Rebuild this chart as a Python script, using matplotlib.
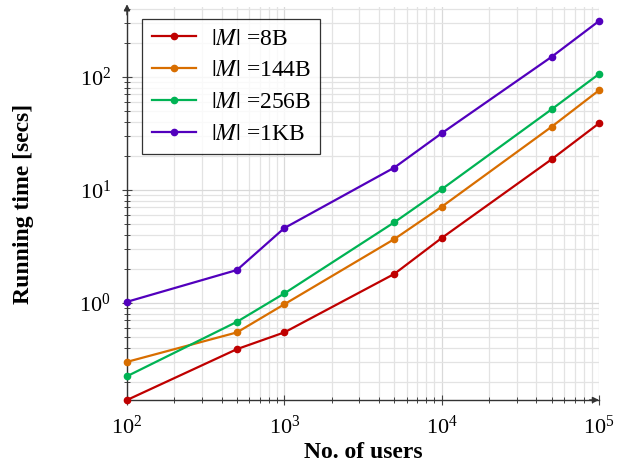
import matplotlib
matplotlib.use("Agg")
import matplotlib.pyplot as plt

users = [100, 500, 1000, 5000, 10000, 50000, 100000]
t_8B = [0.138, 0.389, 0.547, 1.80, 3.74, 18.6, 38.7]
t_144B = [0.30, 0.547, 0.97, 3.66, 7.07, 36.1, 75.8]
t_256B = [0.224, 0.679, 1.21, 5.15, 10.1, 51.5, 105.7]
t_1KB = [1.02, 1.95, 4.58, 15.7, 31.6, 150, 311]
labels = [r"$\left|M\right|$ =8B", r"$\left|M\right|$ =144B",
          r"$\left|M\right|$ =256B", r"$\left|M\right|$ =1KB"]
colors = ["#bf0000", "#d86e00", "#00b354", "#5200bd"]

plt.rcParams["font.family"] = ["Liberation Serif", "DejaVu Serif"]
plt.rcParams["mathtext.fontset"] = "stix"

fig = plt.figure(figsize=(6.21, 4.66), dpi=100)
ax = fig.add_axes([127/621, 66/466, 472/621, 393/466])

for ys, lab, c in zip([t_8B, t_144B, t_256B, t_1KB], labels, colors):
    ax.plot(users, ys, color=c, lw=1.6, marker="o", ms=4.5, label=lab,
            clip_on=False, zorder=3)

ax.set_xscale("log")
ax.set_yscale("log")
ax.set_xlim(100, 1e5)
ax.set_ylim(0.138, 414)

ax.grid(True, which="major", color="#d9d9d9", lw=0.9)
ax.grid(True, which="minor", color="#e3e3e3", lw=0.9)
ax.set_axisbelow(True)

for s in ["top", "right"]:
    ax.spines[s].set_visible(False)
for s in ["left", "bottom"]:
    ax.spines[s].set_color("#333333")
    ax.spines[s].set_linewidth(1.0)

ax.tick_params(which="major", direction="inout", length=7, width=0.8,
               color="#444444", labelsize=16, pad=8)
ax.tick_params(which="minor", direction="inout", length=4, width=0.7,
               color="#444444")
ax.yaxis.set_minor_formatter(matplotlib.ticker.NullFormatter())
ax.xaxis.set_minor_formatter(matplotlib.ticker.NullFormatter())

ax.annotate("", xy=(1.0, 0), xytext=(0.98, 0), xycoords="axes fraction",
            arrowprops=dict(arrowstyle="-|>", color="#333333", lw=1.0,
                            mutation_scale=9, shrinkA=0, shrinkB=0))
ax.annotate("", xy=(0, 1.007), xytext=(0, 0.98), xycoords="axes fraction",
            arrowprops=dict(arrowstyle="-|>", color="#333333", lw=1.0,
                            mutation_scale=9, shrinkA=0, shrinkB=0))

fig.text(363/621, 1 - 453/466, "No. of users", fontsize=17, fontweight="bold",
         ha="center", va="center")
fig.text(24/621, 1 - 204/466, "Running time [secs]", fontsize=17,
         fontweight="bold", ha="center", va="center", rotation=90)

leg = ax.legend(loc="upper left", bbox_to_anchor=(0.032, 0.97), borderaxespad=0,
                fontsize=17, frameon=True, fancybox=False, handlelength=1.9,
                labelspacing=0.43, borderpad=0.4, handletextpad=0.6)
leg.get_frame().set_edgecolor("black")
leg.get_frame().set_linewidth(0.9)

fig.savefig("out.png", dpi=100)
